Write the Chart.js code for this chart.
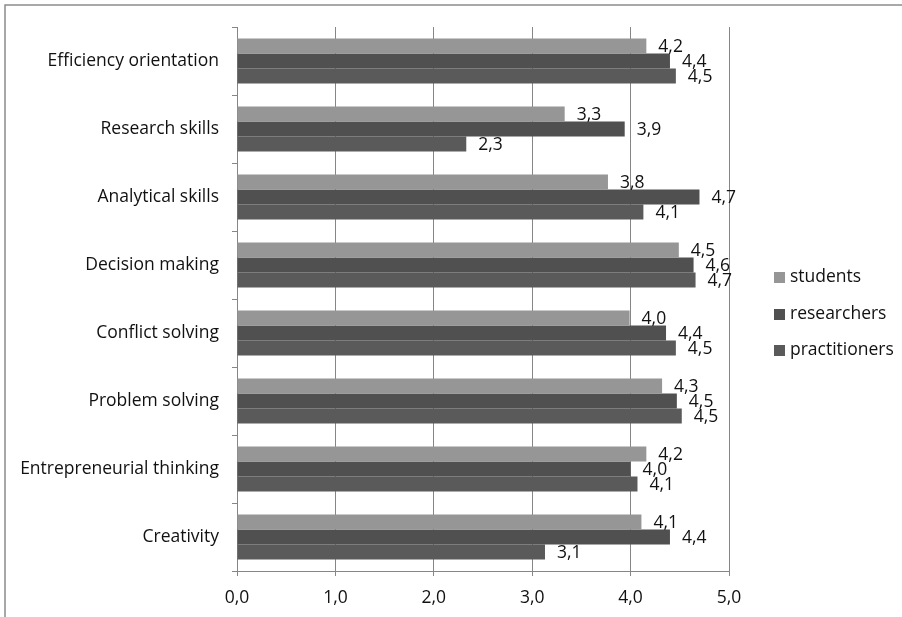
<!DOCTYPE html>
<html>
<head>
<meta charset="utf-8">
<script src="https://cdn.jsdelivr.net/npm/chart.js@4.4.1/dist/chart.umd.min.js"></script>
<style>
  html, body { margin: 0; padding: 0; background: #fff; }
  #wrap { width: 902px; height: 617px; position: relative; }
</style>
</head>
<body>
<div id="wrap"><canvas id="chart" width="902" height="617"></canvas></div>
<script>
// categories, top to bottom
const skills = [
  'Efficiency orientation',
  'Research skills',
  'Analytical skills',
  'Decision making',
  'Conflict solving',
  'Problem solving',
  'Entrepreneurial thinking',
  'Creativity'
];

// mean scores per group
const students      = [4.16, 3.33, 3.77, 4.49, 3.99, 4.32, 4.16, 4.11];
const researchers   = [4.40, 3.94, 4.70, 4.64, 4.36, 4.47, 4.00, 4.40];
const practitioners = [4.46, 2.33, 4.13, 4.66, 4.46, 4.52, 4.07, 3.13];

const xTicks = [0, 1, 2, 3, 4, 5];

const FONT = '"Open Sans", "DejaVu Sans", sans-serif';
const FSIZE = 17.5;
const fmt = v => v.toFixed(1).replace('.', ',');

// value labels at the end of each bar
const barLabels = {
  id: 'barLabels',
  afterDatasetsDraw(chart) {
    const ctx = chart.ctx;
    ctx.save();
    ctx.font = FSIZE + 'px ' + FONT;
    ctx.fillStyle = '#111';
    ctx.textBaseline = 'middle';
    ctx.textAlign = 'left';
    chart.data.datasets.forEach((ds, i) => {
      chart.getDatasetMeta(i).data.forEach((bar, j) => {
        ctx.fillText(fmt(ds.data[j]), bar.x + 12, bar.y + 1);
      });
    });
    ctx.restore();
  }
};

// legend on the right + outer frame
const sideLegend = {
  id: 'sideLegend',
  afterDraw(chart) {
    const ctx = chart.ctx;
    ctx.save();
    // frame (only top/left edges visible in the crop)
    ctx.strokeStyle = '#8c8c8c';
    ctx.lineWidth = 1.5;
    ctx.beginPath();
    ctx.moveTo(5, 617);
    ctx.lineTo(5, 5);
    ctx.lineTo(902, 5);
    ctx.stroke();

    ctx.font = FSIZE + 'px ' + FONT;
    ctx.textBaseline = 'middle';
    const rows = [277, 314, 350];
    chart.data.datasets.forEach((ds, i) => {
      ctx.fillStyle = ds.backgroundColor;
      ctx.fillRect(774, rows[i] - 5, 11, 11);
      ctx.fillStyle = '#111';
      ctx.fillText(ds.label, 790, rows[i]);
    });
    ctx.restore();
  }
};

new Chart(document.getElementById('chart'), {
  type: 'bar',
  data: {
    labels: skills,
    datasets: [
      { label: 'students', data: students, backgroundColor: '#969696' },
      { label: 'researchers', data: researchers, backgroundColor: '#505050' },
      { label: 'practitioners', data: practitioners, backgroundColor: '#5a5a5a' }
    ]
  },
  options: {
    indexAxis: 'y',
    responsive: false,
    animation: false,
    categoryPercentage: 0.66,
    barPercentage: 1.0,
    layout: { padding: { top: 27, right: 173, bottom: 6, left: 0 } },
    plugins: {
      legend: { display: false },
      tooltip: { enabled: false }
    },
    scales: {
      x: {
        min: 0,
        max: 5,
        afterBuildTicks: s => { s.ticks = xTicks.map(v => ({ value: v })); },
        afterFit: s => { s.height = 40; },
        grid: { color: '#868686', tickLength: 5, lineWidth: 1 },
        border: { color: '#868686' },
        ticks: {
          padding: 12,
          color: '#111',
          font: { family: FONT, size: FSIZE },
          callback: v => fmt(v)
        }
      },
      y: {
        afterFit: s => { s.width = 237; },
        grid: { drawOnChartArea: false, color: '#868686', tickLength: 5 },
        border: { color: '#868686' },
        ticks: {
          padding: 13,
          color: '#111',
          font: { family: FONT, size: FSIZE }
        }
      }
    }
  },
  plugins: [barLabels, sideLegend]
});
</script>
</body>
</html>
